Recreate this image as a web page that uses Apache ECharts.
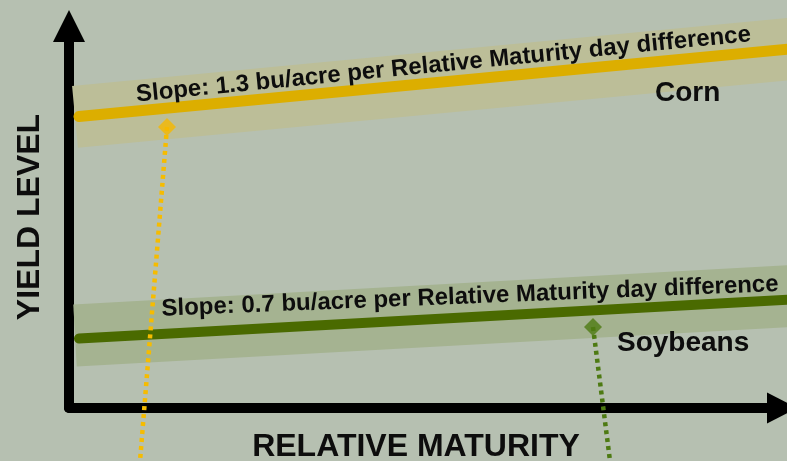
<!DOCTYPE html>
<html>
<head>
<meta charset="utf-8">
<style>
  html, body { margin: 0; padding: 0; background: #b6c0b1; }
  #box { width: 787px; height: 461px; }
</style>
<script src="https://cdn.jsdelivr.net/npm/echarts@6/dist/echarts.min.js"></script>
</head>
<body>
<div id="box"></div>
<script>
// data space: x = relative maturity, y = yield level (arbitrary units)
let cornLine = [[10, 291.5], [731, 360]];
let cornBand = [[6, 291.1], [731, 360]];
let soyLine = [[10, 69.5], [731, 108.9]];
let soyBand = [[6, 72.5], [731, 112.5]];
let cornPoint = [[98, 281]];
let soyPoint = [[524, 81]];
let cornDrop = [[98, 281], [70.3, -62]];
let soyDrop = [[524, 81], [542.8, -67]];

let cornSlopeText = "Slope: 1.3 bu/acre per Relative Maturity day difference";
let soySlopeText = "Slope: 0.7 bu/acre per Relative Maturity day difference";

let font = "'Liberation Sans', Arial, Helvetica, sans-serif";
let chart = echarts.init(document.getElementById("box"), null, { renderer: "canvas" });

function seg(data, color, width, cap, z) {
  return {
    type: "line",
    data: data,
    showSymbol: false,
    silent: true,
    clip: false,
    z: z,
    lineStyle: { color: color, width: width, cap: cap },
    emphasis: { disabled: true }
  };
}

function dots(data, color, z) {
  let s = seg(data, color, 4.5, "butt", z);
  s.lineStyle.type = [4, 4];
  return s;
}

function diamond(data, color) {
  return {
    type: "scatter",
    data: data,
    symbol: "diamond",
    symbolSize: 18,
    silent: true,
    clip: false,
    z: 6,
    itemStyle: { color: color }
  };
}

function txt(text, x, y, size, rot, align) {
  return {
    type: "text",
    x: x,
    y: y,
    rotation: rot,
    z: 10,
    style: {
      text: text,
      font: "bold " + size + "px " + font,
      fill: "#0d0d0d",
      textAlign: align,
      align: align,
      textVerticalAlign: "middle",
      verticalAlign: "middle"
    }
  };
}

let option = {
  backgroundColor: "#b6c0b1",
  animation: false,
  grid: { left: 69, right: 5, top: 26, bottom: 53, containLabel: false, outerBoundsMode: "none" },
  xAxis: {
    type: "value",
    min: 0,
    max: 713,
    name: "RELATIVE MATURITY",
    nameLocation: "middle",
    nameGap: 23,
    nameTextStyle: { fontFamily: font, fontWeight: "bold", fontSize: 32, color: "#0d0d0d", padding: [0, 19, 0, 0] },
    axisLine: { show: true, onZero: false, symbol: ["none", "triangle"], symbolSize: [31, 30], lineStyle: { color: "#000", width: 10 } },
    axisTick: { show: false },
    axisLabel: { show: false },
    splitLine: { show: false }
  },
  yAxis: {
    type: "value",
    min: 0,
    max: 382,
    name: "YIELD LEVEL",
    nameLocation: "middle",
    nameGap: 23,
    nameTextStyle: { fontFamily: font, fontWeight: "bold", fontSize: 32, color: "#0d0d0d" },
    axisLine: { show: true, onZero: false, symbol: ["none", "triangle"], symbolSize: [32, 32], lineStyle: { color: "#000", width: 10 } },
    axisTick: { show: false },
    axisLabel: { show: false },
    splitLine: { show: false }
  },
  series: [
    seg(cornBand, "#bcbe98", 62, "butt", 2),
    seg(soyBand, "#a5b391", 62, "butt", 2),
    seg(cornLine, "#dcae00", 11, "round", 3),
    seg(soyLine, "#4a6a00", 10, "round", 3),
    dots(cornDrop, "#f6bc00", 5),
    dots(soyDrop, "#4d7a12", 5),
    diamond(cornPoint, "#f5b800"),
    diamond(soyPoint, "#4d7a12")
  ],
  graphic: [
    txt(cornSlopeText, 443.5, 64.7, 24, 0.098, "center"),
    txt(soySlopeText, 470, 296.7, 24, 0.04, "center"),
    txt("Corn", 655, 93.3, 28, 0, "left"),
    txt("Soybeans", 617, 343.3, 28, 0, "left")
  ]
};

chart.setOption(option);
</script>
</body>
</html>
